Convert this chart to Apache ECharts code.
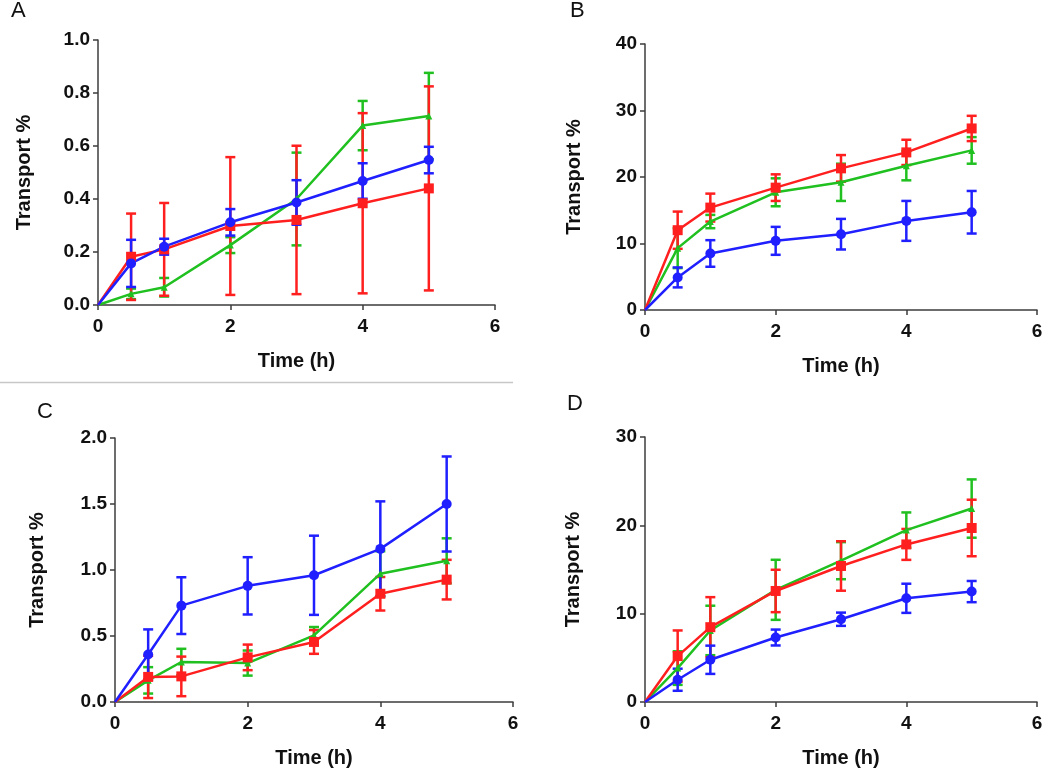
<!DOCTYPE html>
<html><head><meta charset="utf-8">
<script src="https://cdn.jsdelivr.net/npm/echarts@6/dist/echarts.min.js"></script>
<style>html,body{margin:0;padding:0;background:#fff}#c{width:1050px;height:772px}</style>
</head><body><div id="c"></div>
<script>
const times = [0, 0.5, 1, 2, 3, 4, 5];
const xTicks = [0, 2, 4, 6];

// Panel A
const A_green = [0, 0.042, 0.067, 0.226, 0.40, 0.677, 0.713];
const A_green_err = [0, 0.02, 0.035, 0.03, 0.175, 0.093, 0.163];
const A_red = [0, 0.182, 0.21, 0.298, 0.321, 0.384, 0.44];
const A_red_err = [0, 0.163, 0.175, 0.26, 0.28, 0.34, 0.385];
const A_blue = [0, 0.157, 0.22, 0.312, 0.387, 0.468, 0.547];
const A_blue_err = [0, 0.089, 0.03, 0.05, 0.084, 0.067, 0.05];
// Panel B
const B_green = [0, 9.3, 13.3, 17.7, 19.2, 21.7, 24.0];
const B_green_err = [0, 3.0, 1.0, 2.1, 2.8, 2.2, 2.0];
const B_red = [0, 12.0, 15.4, 18.4, 21.3, 23.7, 27.3];
const B_red_err = [0, 2.8, 2.1, 2.0, 2.0, 1.9, 1.9];
const B_blue = [0, 4.9, 8.5, 10.4, 11.4, 13.4, 14.7];
const B_blue_err = [0, 1.5, 2.0, 2.1, 2.3, 3.0, 3.2];
// Panel C
const C_green = [0, 0.164, 0.303, 0.295, 0.505, 0.972, 1.07];
const C_green_err = [0, 0.1, 0.1, 0.095, 0.063, 0.17, 0.17];
const C_red = [0, 0.19, 0.194, 0.338, 0.455, 0.82, 0.927];
const C_red_err = [0, 0.16, 0.15, 0.097, 0.09, 0.127, 0.15];
const C_blue = [0, 0.36, 0.73, 0.88, 0.96, 1.16, 1.5];
const C_blue_err = [0, 0.19, 0.215, 0.217, 0.30, 0.36, 0.36];
// Panel D
const D_green = [0, 3.84, 8.1, 12.7, 16.0, 19.46, 21.9];
const D_green_err = [0, 1.9, 2.8, 3.4, 2.1, 2.0, 3.3];
const D_red = [0, 5.2, 8.47, 12.57, 15.4, 17.84, 19.7];
const D_red_err = [0, 2.9, 3.4, 2.4, 2.8, 1.75, 3.2];
const D_blue = [0, 2.52, 4.78, 7.3, 9.37, 11.74, 12.5];
const D_blue_err = [0, 1.25, 1.6, 0.9, 0.75, 1.65, 1.2];

const panelLetters = ['A', 'B', 'C', 'D'];
const yMax = [1.0, 40, 2.0, 30];
const yInterval = [0.2, 10, 0.5, 10];
const yDecimals = [1, 0, 1, 0];

const GREEN = '#1fc01f', RED = '#ff1f1f', BLUE = '#1f1fff';
const AXIS = '#3c3c3c';

const panels = [
  {g: A_green, ge: A_green_err, r: A_red, re: A_red_err, b: A_blue, be: A_blue_err},
  {g: B_green, ge: B_green_err, r: B_red, re: B_red_err, b: B_blue, be: B_blue_err},
  {g: C_green, ge: C_green_err, r: C_red, re: C_red_err, b: C_blue, be: C_blue_err},
  {g: D_green, ge: D_green_err, r: D_red, re: D_red_err, b: D_blue, be: D_blue_err}
];

const grids = [
  {left: 98, top: 40, width: 397, height: 265},
  {left: 645, top: 44, width: 392, height: 266},
  {left: 115, top: 438, width: 398, height: 264},
  {left: 645, top: 437, width: 392, height: 265}
];
const yNameGap = [64, 61, 68, 62];

const xAxes = [], yAxes = [], series = [];
grids.forEach((g, i) => {
  xAxes.push({
    gridIndex: i, type: 'value', min: 0, max: 6, interval: 2,
    name: 'Time (h)', nameLocation: 'middle', nameGap: 46,
    nameTextStyle: {fontFamily: 'Liberation Sans', fontWeight: 'bold', fontSize: 20, color: '#111'},
    axisLine: {show: true, onZero: false, lineStyle: {color: AXIS, width: 1.5}},
    axisTick: {show: true, length: 5, lineStyle: {color: AXIS, width: 1.5}},
    axisLabel: {fontFamily: 'Liberation Sans', fontWeight: 'bold', fontSize: 19, color: '#111', margin: 12},
    splitLine: {show: false}
  });
  yAxes.push({
    gridIndex: i, type: 'value', min: 0, max: yMax[i], interval: yInterval[i],
    name: 'Transport %', nameLocation: 'middle', nameGap: yNameGap[i],
    nameTextStyle: {fontFamily: 'Liberation Sans', fontWeight: 'bold', fontSize: 20, color: '#111'},
    axisLine: {show: true, lineStyle: {color: AXIS, width: 1.5}},
    axisTick: {show: true, length: 5, lineStyle: {color: AXIS, width: 1.5}},
    axisLabel: {fontFamily: 'Liberation Sans', fontWeight: 'bold', fontSize: 19, color: '#111', margin: 8,
      formatter: v => v.toFixed(yDecimals[i])},
    splitLine: {show: false}
  });
  const p = panels[i];
  const defs = [
    {vals: p.g, errs: p.ge, color: GREEN, symbol: 'triangle', size: 7},
    {vals: p.r, errs: p.re, color: RED, symbol: 'rect', size: 10},
    {vals: p.b, errs: p.be, color: BLUE, symbol: 'circle', size: 10}
  ];
  defs.forEach(d => {
    series.push({
      type: 'custom', xAxisIndex: i, yAxisIndex: i, silent: true,
      data: times.map((t, k) => [t, d.vals[k] - d.errs[k], d.vals[k] + d.errs[k]]).filter((v, k) => d.errs[k] > 0),
      renderItem: (params, api) => {
        const x = api.value(0), lo = api.value(1), hi = api.value(2);
        const pLo = api.coord([x, lo]), pHi = api.coord([x, hi]);
        const w = 5;
        const style = {stroke: d.color, lineWidth: 2.5};
        return {type: 'group', children: [
          {type: 'line', shape: {x1: pLo[0], y1: pLo[1], x2: pHi[0], y2: pHi[1]}, style},
          {type: 'line', shape: {x1: pLo[0] - w, y1: pLo[1], x2: pLo[0] + w, y2: pLo[1]}, style},
          {type: 'line', shape: {x1: pHi[0] - w, y1: pHi[1], x2: pHi[0] + w, y2: pHi[1]}, style}
        ]};
      },
      z: 2
    });
    series.push({
      type: 'line', xAxisIndex: i, yAxisIndex: i, silent: true,
      data: times.map((t, k) => [t, d.vals[k]]),
      symbol: d.symbol, symbolSize: (v, params) => params.dataIndex === 0 ? 0 : d.size,
      showSymbol: true,
      lineStyle: {color: d.color, width: 2.5},
      itemStyle: {color: d.color},
      z: 3
    });
  });
});

const letterPos = [[11, 0], [570, 0], [37, 401], [567, 393]];
const graphic = panelLetters.map((L, i) => ({
  type: 'text', left: letterPos[i][0], top: letterPos[i][1],
  style: {text: L, font: '22px "Liberation Sans"', fill: '#111'}
}));
graphic.push({type: 'line', shape: {x1: 0, y1: 382.5, x2: 513, y2: 382.5}, style: {stroke: '#c8c8c8', lineWidth: 1.5}});

const chart = echarts.init(document.getElementById('c'), null, {renderer: 'canvas'});
chart.setOption({
  animation: false,
  grid: grids,
  xAxis: xAxes,
  yAxis: yAxes,
  series: series,
  graphic: graphic
});
</script>
</body></html>
